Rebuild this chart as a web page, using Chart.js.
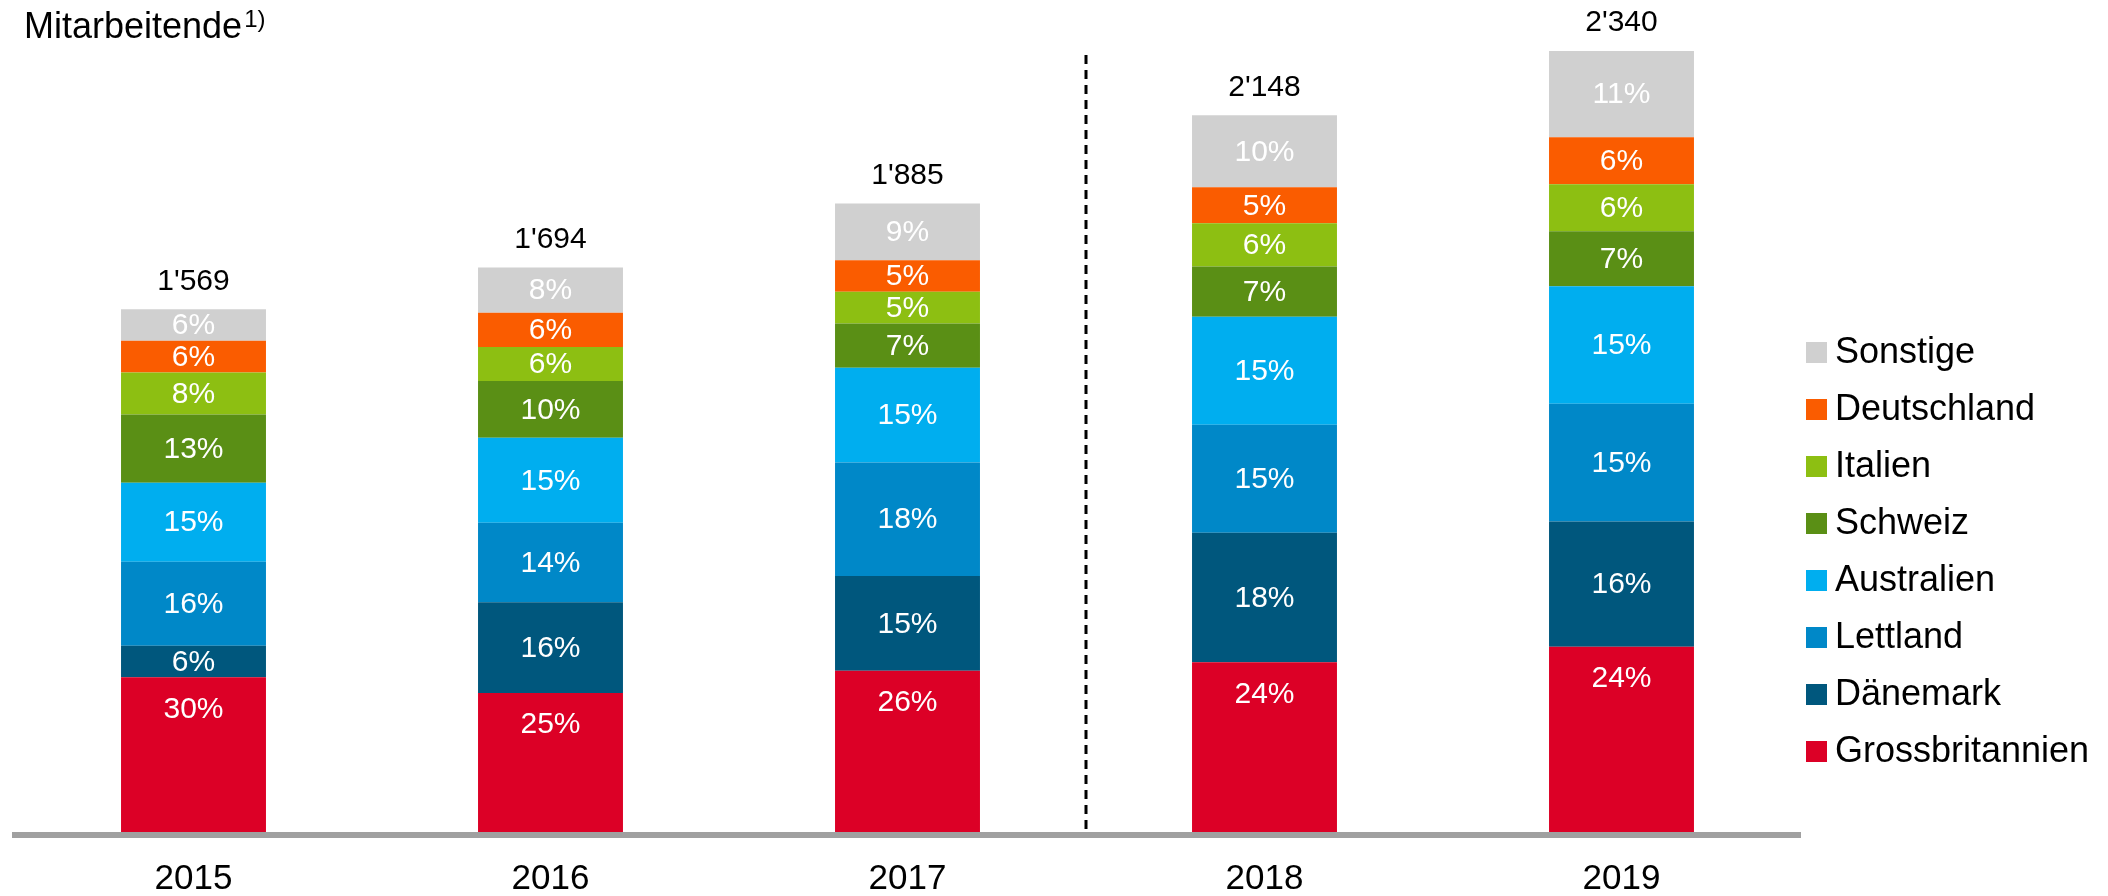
<!DOCTYPE html>
<html>
<head>
<meta charset="utf-8">
<script src="https://cdn.jsdelivr.net/npm/chart.js@4/dist/chart.umd.min.js"></script>
<style>
  html, body { margin: 0; padding: 0; background: #fff; }
  #wrap { width: 2108px; height: 896px; }
</style>
</head>
<body>
<div id="wrap"><canvas id="staffChart" width="2108" height="896"></canvas></div>
<script>
var years = ['2015', '2016', '2017', '2018', '2019'];
var totals = [1569, 1694, 1885, 2148, 2340];
var totalLabels = ["1'569", "1'694", "1'885", "2'148", "2'340"];

// shares in % per country, bottom to top of the stack
var countries = ['Grossbritannien', 'Dänemark', 'Lettland', 'Australien', 'Schweiz', 'Italien', 'Deutschland', 'Sonstige'];
var grossbritannien = [30, 25, 26, 24, 24];
var daenemark       = [6, 16, 15, 18, 16];
var lettland        = [16, 14, 18, 15, 15];
var australien      = [15, 15, 15, 15, 15];
var schweiz         = [13, 10, 7, 7, 7];
var italien         = [8, 6, 5, 6, 6];
var deutschland     = [6, 6, 5, 5, 6];
var sonstige        = [6, 8, 9, 10, 11];
var shares = [grossbritannien, daenemark, lettland, australien, schweiz, italien, deutschland, sonstige];
var colors = ['#DC0026', '#00577D', '#0088C8', '#00AEEF', '#5A8F15', '#8DBF12', '#FA5C00', '#D0D0D0'];

var FONT = 'Arial, "Liberation Sans", sans-serif';

var datasets = countries.map(function (name, i) {
	return {
		label: name,
		pct: shares[i],
		data: shares[i].map(function (p, j) { return totals[j] * p / 100; }),
		backgroundColor: colors[i],
		borderWidth: 0,
		barPercentage: 0.406,
		categoryPercentage: 1
	};
});

// labels inside the bars and totals on top
var labelPlugin = {
	id: 'labels',
	afterDatasetsDraw: function (chart) {
		var ctx = chart.ctx;
		ctx.save();
		ctx.textAlign = 'center';
		ctx.textBaseline = 'middle';
		ctx.font = '30px ' + FONT;
		ctx.fillStyle = '#fff';
		chart.data.datasets.forEach(function (ds, i) {
			var meta = chart.getDatasetMeta(i);
			meta.data.forEach(function (bar, j) {
				var y = (bar.y + bar.base) / 2;
				if (i === 0) y = bar.y + 31;
				ctx.fillText(ds.pct[j] + '%', bar.x, y + 1);
			});
		});
		var last = chart.getDatasetMeta(chart.data.datasets.length - 1);
		ctx.fillStyle = '#000';
		last.data.forEach(function (bar, j) {
			ctx.fillText(totalLabels[j], bar.x, bar.y - 28);
		});
		ctx.restore();
	}
};

// dashed separator between actual years, title and legend
var extrasPlugin = {
	id: 'extras',
	afterDraw: function (chart) {
		var ctx = chart.ctx, x = chart.scales.x, area = chart.chartArea;
		ctx.save();
		var sx = (x.getPixelForValue(2) + x.getPixelForValue(3)) / 2;
		ctx.strokeStyle = '#000';
		ctx.lineWidth = 3;
		ctx.setLineDash([9, 6]);
		ctx.beginPath();
		ctx.moveTo(sx, 55);
		ctx.lineTo(sx, area.bottom - 3);
		ctx.stroke();
		ctx.setLineDash([]);

		ctx.fillStyle = '#000';
		ctx.textAlign = 'left';
		ctx.textBaseline = 'alphabetic';
		ctx.font = '36px ' + FONT;
		ctx.fillText('Mitarbeitende', 24, 38);
		var w = ctx.measureText('Mitarbeitende').width;
		ctx.font = '24px ' + FONT;
		ctx.fillText('1)', 24 + w + 2, 27);

		// legend, top entry is the top of the stack
		ctx.font = '36px ' + FONT;
		ctx.textBaseline = 'middle';
		var n = chart.data.datasets.length;
		for (var k = 0; k < n; k++) {
			var ds = chart.data.datasets[n - 1 - k];
			var cy = 352 + k * 57;
			ctx.fillStyle = ds.backgroundColor;
			ctx.fillRect(area.right + 6, cy - 10, 21, 21);
			ctx.fillStyle = '#000';
			ctx.fillText(ds.label, area.right + 35, cy + 1);
		}
		ctx.restore();
	}
};

var ctx = document.getElementById('staffChart').getContext('2d');
var staffChart = new Chart(ctx, {
	type: 'bar',
	data: { labels: years, datasets: datasets },
	options: {
		responsive: false,
		animation: false,
		layout: { padding: { top: 51, left: 15, right: 308, bottom: 0 } },
		plugins: {
			legend: { display: false },
			tooltip: { enabled: false }
		},
		scales: {
			x: {
				stacked: true,
				afterFit: function (scale) { scale.height = 61; },
				grid: { display: false, drawTicks: false },
				border: { display: true, color: '#A0A0A0', width: 6, z: 1 },
				ticks: { color: '#000', padding: 23, font: { family: FONT, size: 35 } }
			},
			y: {
				stacked: true,
				display: false,
				min: 0,
				max: Math.max.apply(null, totals)
			}
		}
	},
	plugins: [labelPlugin, extrasPlugin]
});
</script>
</body>
</html>
